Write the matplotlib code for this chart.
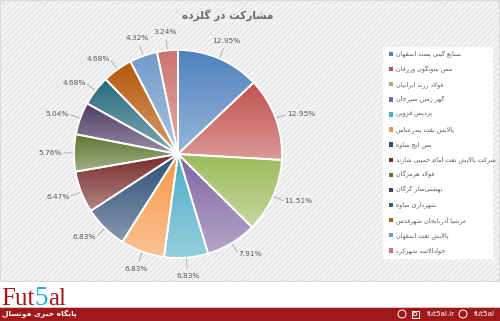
import numpy as np
import matplotlib
matplotlib.use("Agg")
import matplotlib.pyplot as plt
from matplotlib.patches import Rectangle, Circle
from matplotlib.colors import to_rgb

# ── data ─────────────────────────────────────────────────────────
TITLE = "مشارکت در گلزده"
teams = [
    "صنایع گیتی پسند اصفهان",
    "مس سونگون ورزقان",
    "فولاد زرند ایرانیان",
    "گهر زمین سیرجان",
    "پردیس قزوین",
    "پالایش نفت بندرعباس",
    "سن ایچ ساوه",
    "شرکت پالایش نفت امام خمینی شازند",
    "فولاد هرمزگان",
    "بهشتی\u200cساز گرگان",
    "شهرداری ساوه",
    "عرشیا آذربایجان شهرقدس",
    "پالایش نفت اصفهان",
    "جوادالائمه شهرکرد",
]
share = [12.95, 12.95, 11.51, 7.91, 6.83, 6.83, 6.83, 6.47, 5.76, 5.04, 4.68, 4.68, 4.32, 3.24]

COLORS = ["#4F81BD", "#C0504D", "#9BBB59", "#8064A2", "#4BACC6", "#F79646",
          "#2C4D75", "#772C2A", "#5F7530", "#4D3B62", "#276A7C", "#B65708",
          "#729ACA", "#CD7371"]
TXT = "#595959"
BANNER = "#A0181A"

# ── tiny arabic/persian shaper (matplotlib has no RTL shaping) ───
DUAL = {'ب': 0xFE8F, 'ت': 0xFE95, 'ث': 0xFE99, 'ج': 0xFE9D, 'ح': 0xFEA1, 'خ': 0xFEA5,
        'س': 0xFEB1, 'ش': 0xFEB5, 'ص': 0xFEB9, 'ض': 0xFEBD, 'ط': 0xFEC1, 'ظ': 0xFEC5,
        'ع': 0xFEC9, 'غ': 0xFECD, 'ف': 0xFED1, 'ق': 0xFED5, 'ل': 0xFEDD, 'م': 0xFEE1,
        'ن': 0xFEE5, 'ه': 0xFEE9, 'ئ': 0xFE89, 'پ': 0xFB56, 'چ': 0xFB7A, 'ک': 0xFB8E,
        'گ': 0xFB92, 'ی': 0xFBFC}
RIGHT = {'ا': 0xFE8D, 'آ': 0xFE81, 'د': 0xFEA9, 'ذ': 0xFEAB, 'ر': 0xFEAD, 'ز': 0xFEAF,
         'ژ': 0xFB8A, 'و': 0xFEED}


def fa(text):
    out, i, n = [], 0, len(text)
    while i < n:
        c = text[i]
        prev = text[i - 1] if i > 0 else ""
        p = prev in DUAL
        if c == "ل" and i + 1 < n and text[i + 1] == "ا":
            out.append("\uFEFC" if p else "\uFEFB")
            i += 2
            continue
        nxt = text[i + 1] if i + 1 < n else ""
        f = nxt in DUAL or nxt in RIGHT
        if c in DUAL:
            out.append(chr(DUAL[c] + (3 if p and f else 1 if p else 2 if f else 0)))
        elif c in RIGHT:
            out.append(chr(RIGHT[c] + (1 if p else 0)))
        elif c != "\u200c":
            out.append(c)
        i += 1
    return "".join(reversed(out))


def lighten(c, a):
    r = np.array(to_rgb(c))
    return r + (1 - r) * a


plt.rcParams["hatch.color"] = "#E7E7E7"
plt.rcParams["hatch.linewidth"] = 0.5

W, H = 500, 321
fig = plt.figure(figsize=(W / 100, H / 100), dpi=100)
fig.patch.set_facecolor("white")
bg = fig.add_axes([0, 0, 1, 1])
bg.set_xlim(0, W); bg.set_ylim(H, 0); bg.axis("off")

# chart panel with fine diagonal texture
bg.add_patch(Rectangle((0, 0), W - 1, 281, facecolor="#F3F3F3", edgecolor="#D9D9D9",
                       lw=0.8, hatch="//////", zorder=0))
bg.add_patch(Rectangle((383, 47), 110, 212, facecolor="white", edgecolor="none", zorder=1))

bg.text(228, 15, fa(TITLE), ha="center", va="center", fontsize=7.6,
        fontweight="bold", color="#6B6B6B")

# legend
for k, (name, col) in enumerate(zip(teams, COLORS)):
    y = 54 + k * 15.1
    bg.add_patch(Rectangle((388.5, y - 2.2), 4.4, 4.4, facecolor=col, edgecolor="none", zorder=2))
    bg.text(396, y, fa(name), ha="left", va="center", fontsize=4.6, color=TXT, zorder=2)

# ── pie ──────────────────────────────────────────────────────────
cx, cy, R = 178, 154, 108
ax = fig.add_axes([(cx - 130) / W, (H - cy - 130) / H, 260 / W, 260 / H])
ax.set_xlim(-1.2, 1.2); ax.set_ylim(-1.2, 1.2)
ax.set_aspect("equal"); ax.axis("off")

wedges, _ = ax.pie(share, colors=COLORS, startangle=90, counterclock=False, radius=1.0,
                   wedgeprops=dict(edgecolor="none"))
for w, col in zip(wedges, COLORS):
    v = w.get_path().vertices
    y0, y1 = v[:, 1].min(), v[:, 1].max()
    x0, x1 = v[:, 0].min(), v[:, 0].max()
    t = np.linspace(0, 1, 64)[:, None]
    top = np.array(to_rgb(col)); bot = lighten(col, 0.42)
    grad = top + (bot - top) * t
    img = ax.imshow(grad[:, None, :], extent=[x0, x1, y0, y1], origin="upper",
                    aspect="auto", zorder=1, interpolation="bilinear")
    img.set_clip_path(w)
ax.set_xlim(-1.2, 1.2); ax.set_ylim(-1.2, 1.2)
ax.pie(share, colors=["none"] * len(share), startangle=90, counterclock=False, radius=1.0,
       wedgeprops=dict(edgecolor="white", linewidth=1.3, zorder=3))

# data labels with leader lines
cum = np.cumsum([0] + share[:-1])
for s, c0 in zip(share, cum):
    ang = np.deg2rad(90 - (c0 + s / 2) * 3.6)
    ca, sa = np.cos(ang), np.sin(ang)
    ax.plot([ca * 1.0, ca * 1.1], [sa * 1.0, sa * 1.1], color="#A6A6A6", lw=0.6, zorder=2)
    if abs(ca) < 0.5:
        ha, r = "center", 1.18
    else:
        ha, r = ("left" if ca > 0 else "right"), 1.12
    ax.text(ca * r, sa * r, f"{s:.2f}%", ha=ha, va="center", fontsize=5.3, color=TXT)

# ── footer branding ─────────────────────────────────────────────
renderer = fig.canvas.get_renderer()
x = 1.5
for part, col, fs in (("Fut", BANNER, 18), ("5", "#2AA8DC", 19.5), ("al", BANNER, 18)):
    t = bg.text(x, 305, part, fontsize=fs, family="Liberation Serif", color=col, va="baseline")
    bb = t.get_window_extent(renderer)
    x += bb.width
bg.plot([0, W], [306.5, 306.5], color="#E0E0E0", lw=0.6)
bg.add_patch(Rectangle((0, 307), W, 14, facecolor=BANNER, edgecolor="none"))
bg.text(2, 314, fa("پایگاه خبری فوتسال"), ha="left", va="center", fontsize=5.4,
        fontweight="bold", color="white")
bg.add_patch(Circle((402, 314), 4, facecolor="none", edgecolor="white", lw=0.7))
bg.add_patch(Rectangle((411.5, 310.5), 7, 7, facecolor="none", edgecolor="white", lw=0.7))
bg.add_patch(Circle((415, 314), 1.8, facecolor="none", edgecolor="white", lw=0.6))
bg.add_patch(Circle((463, 314), 4, facecolor="none", edgecolor="white", lw=0.7))
bg.text(427, 314, "fut5al.ir", ha="left", va="center", fontsize=5.2, color="white")
bg.text(474, 314, "fut5al", ha="left", va="center", fontsize=5.2, color="white")

fig.savefig("out.png", dpi=100, facecolor="white")
